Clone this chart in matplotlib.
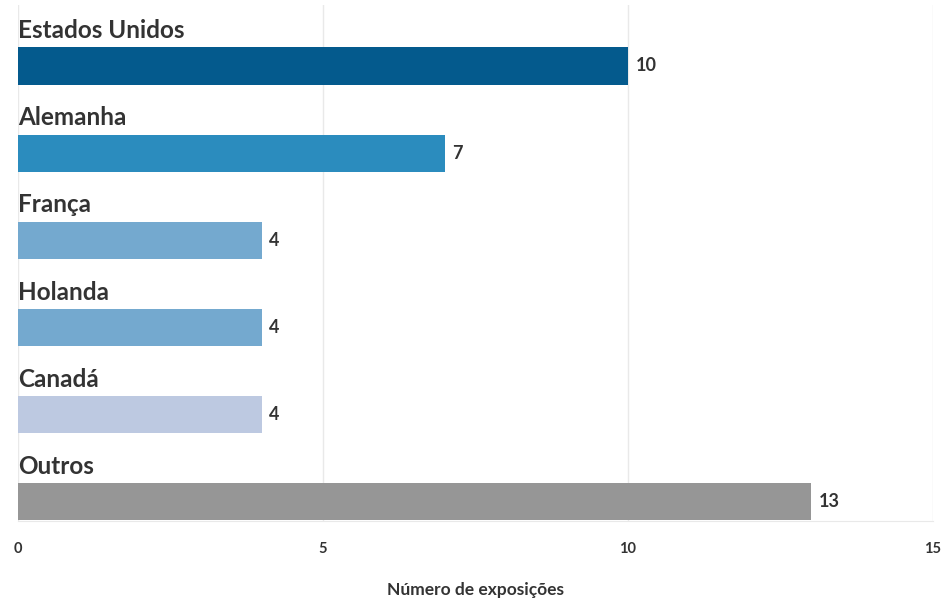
import numpy as np
import matplotlib.pyplot as plt

# Data
countries = ["Estados Unidos", "Alemanha", "França", "Holanda", "Canadá", "Outros"]
exposicoes = [10, 7, 4, 4, 4, 13]
colors = ["#045a8d", "#2b8cbe", "#74a9cf", "#74a9cf", "#bdc9e1", "#969696"]

plt.rcParams["font.family"] = ["Lato", "DejaVu Sans"]
text_color = "#333333"

fig = plt.figure(figsize=(9.47, 6.01), dpi=100)
ax = fig.add_axes([18 / 947, 1 - 521 / 601, 915 / 947, 516 / 601])

y = np.arange(len(countries))
bar_h = 0.425
ax.barh(y, exposicoes, height=bar_h, color=colors, zorder=3)

for i, (name, val) in enumerate(zip(countries, exposicoes)):
    ax.text(0, i - bar_h / 2 - 0.06, name, ha="left", va="bottom",
            fontsize=17.5, fontweight="bold", color=text_color)
    ax.text(val + 0.12, i, str(val), ha="left", va="center",
            fontsize=13, fontweight="bold", color=text_color)

ax.set_xlim(0, 15)
ax.set_ylim(5 + bar_h / 2 + 0.01, -0.70)
ax.set_xticks([0, 5, 10, 15])
ax.set_yticks([])
ax.grid(axis="x", color="#e9e9e9", linewidth=1, zorder=0)
for side in ["top", "right", "left"]:
    ax.spines[side].set_visible(False)
ax.spines["bottom"].set_color("#e9e9e9")
ax.tick_params(axis="x", length=0, pad=15, labelsize=10.5, labelcolor=text_color)
for lbl in ax.get_xticklabels():
    lbl.set_fontweight("bold")
ax.set_xlabel("Número de exposições", fontsize=12.5, fontweight="bold",
              color=text_color, labelpad=19)

fig.savefig("out.png", dpi=100)
